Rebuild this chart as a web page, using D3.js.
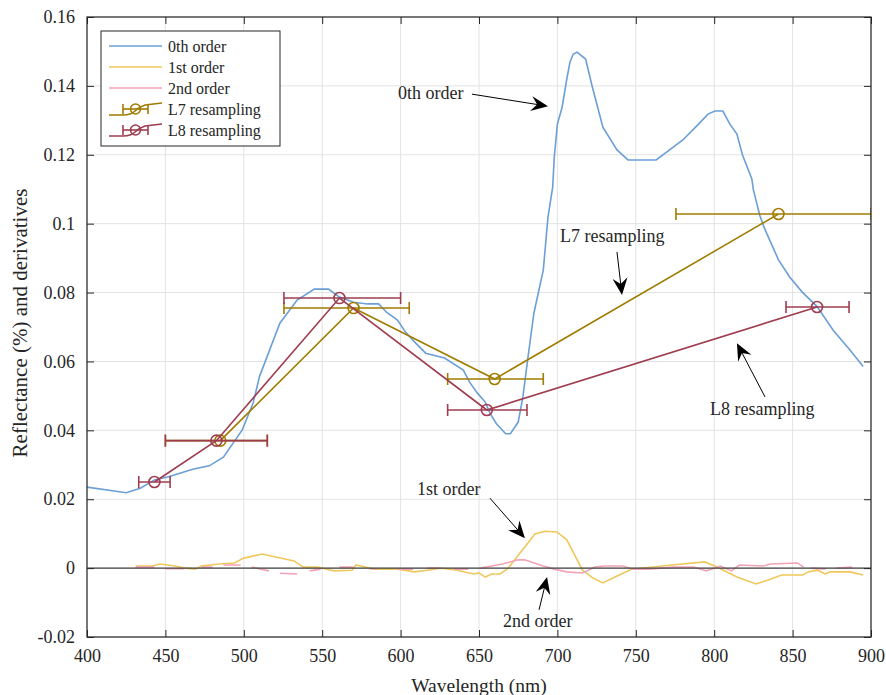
<!DOCTYPE html>
<html>
<head>
<meta charset="utf-8">
<script src="https://cdn.jsdelivr.net/npm/d3@7"></script>
<style>
  body { margin: 0; background: #fff; }
  svg text { font-family: "Liberation Serif", "Times New Roman", serif; fill: #262626; }
</style>
</head>
<body>
<svg width="886" height="695"></svg>
<script>
var svg = d3.select('svg');

// 0th order reflectance
var wl0 = [400, 425, 434, 443, 452, 468, 478, 487, 499, 506, 510, 523, 534, 545, 554, 561, 570, 579, 586, 591, 598, 603, 609, 616, 628, 640, 644, 649, 654, 657, 661, 667, 670, 675, 678, 681, 685, 691, 694, 697, 698, 700, 703, 706, 708, 710, 712.5, 718, 722, 729, 738, 745, 763, 780, 790, 796, 800.5, 805.5, 810, 814.5, 818, 824, 825, 829, 832, 841, 848, 856, 865.5, 876, 886.6, 895];
var r0 = [0.0235, 0.0219, 0.0232, 0.0256, 0.0265, 0.0288, 0.0297, 0.0322, 0.0401, 0.048, 0.0556, 0.0711, 0.0778, 0.081, 0.081, 0.0787, 0.0772, 0.0767, 0.0767, 0.0743, 0.072, 0.0686, 0.0656, 0.0624, 0.061, 0.0575, 0.054, 0.0508, 0.0482, 0.045, 0.042, 0.039, 0.039, 0.0424, 0.0497, 0.0604, 0.074, 0.0865, 0.1019, 0.1106, 0.1193, 0.1289, 0.1338, 0.142, 0.1469, 0.1492, 0.1498, 0.1478, 0.1402, 0.128, 0.1214, 0.1185, 0.1185, 0.1243, 0.1289, 0.1318, 0.1327, 0.1327, 0.1289, 0.126, 0.12, 0.113, 0.1098, 0.1025, 0.0987, 0.0895, 0.0846, 0.0802, 0.076, 0.069, 0.0633, 0.0585];

// 1st order derivative
var wl1 = [431, 441.5, 446.6, 456, 462.5, 469, 473, 484, 494, 500, 511.7, 532, 538, 547, 557.5, 569, 571.6, 583, 598, 609, 617, 626, 636, 643.6, 647, 650, 654, 658, 663.5, 668.6, 685.7, 692, 699.7, 706, 716, 722.7, 729, 736.7, 747.6, 761, 773, 794, 801.8, 814.5, 826.7, 834, 843, 856.6, 859.8, 866, 870.7, 874, 886.6, 895];
var r1 = [0.0006, 0.0006, 0.0012, 0.0006, 0, -0.0003, 0.0006, 0.0012, 0.0015, 0.0029, 0.0041, 0.0021, 0.0003, 0.0003, -0.0008, -0.0006, 0.0009, -0.0003, -0.0003, -0.0011, -0.0006, 0, -0.0006, -0.0014, -0.0017, -0.0014, -0.0026, -0.0017, -0.0017, 0, 0.0099, 0.0107, 0.0105, 0.0082, -0.0006, -0.0029, -0.0043, -0.0026, -0.0003, 0.0003, 0.0009, 0.0018, 0.0003, -0.0026, -0.0046, -0.0035, -0.002, -0.002, -0.0011, -0.0006, -0.0017, -0.0011, -0.0011, -0.002];

// 2nd order derivative (null = gap)
var wl2 = [431, 443, 446, 450, 462, 467, 473, 480, 484, 487, 498, 501, 505, 516, 520, 523, 534, 538, 542, 549, 555, 561, 570, 575, 580, 585, 592, 598, 608, 612, 617, 625, 630, 634, 643, 648, 651, 658, 665, 675, 679, 691, 698, 706, 716, 724, 730, 742, 748, 758, 774, 787, 795, 804, 811, 816, 831, 836, 853, 857, 859, 862, 871, 875, 878, 888];
var r2 = [0.0003, 0.0003, null, -0.0002, -0.0002, null, 0.0003, 0.0003, null, 0.0009, 0.0009, null, 0.0003, -0.0008, null, -0.0015, -0.0017, null, -0.0008, -0.0003, null, 0.0003, 0.0003, null, -0.0002, -0.0002, null, -0.0003, -0.0003, null, 0, 0, null, -0.0003, -0.0003, null, 0, 0.0006, 0.0012, 0.0024, 0.0024, 0.0006, -0.0003, -0.0011, -0.0014, 0.0003, 0.0006, 0.0006, -0.0003, -0.0003, 0.0003, 0.0003, -0.0008, 0.0006, -0.0008, 0.0009, 0.0006, 0.0012, 0.0015, 0.0003, null, 0, -0.0003, null, 0, 0.0003];

// L7 resampling: centre, value, band limits
var l7Centre = [485, 570, 660, 841];
var l7Value = [0.037, 0.0755, 0.0549, 0.1028];
var l7Low = [450, 525.6, 630, 775.6];
var l7High = [515, 605.5, 691, 900];

// L8 resampling
var l8Centre = [443, 482.5, 561, 655, 865.6];
var l8Value = [0.025, 0.037, 0.0784, 0.0459, 0.0758];
var l8Low = [433, 450, 525.6, 630, 845.8];
var l8High = [453, 515, 600, 680.6, 886];

var xTicks = [400, 450, 500, 550, 600, 650, 700, 750, 800, 850, 900];
var yTicks = [-0.02, 0, 0.02, 0.04, 0.06, 0.08, 0.1, 0.12, 0.14, 0.16];

// annotations: text position and arrow tail -> tip, in data units
var notes = [
  {label: '0th order', tx: 598.3, ty: 0.1362, x1: 645.5, y1: 0.1376, x2: 694, y2: 0.1341},
  {label: 'L7 resampling', tx: 701.7, ty: 0.0947, x1: 738, y1: 0.0918, x2: 741.2, y2: 0.0793},
  {label: 'L8 resampling', tx: 797.3, ty: 0.0445, x1: 832.4, y1: 0.0497, x2: 814.5, y2: 0.0653},
  {label: '1st order', tx: 610.5, ty: 0.0212, x1: 657, y1: 0.0203, x2: 679.3, y2: 0.0087},
  {label: '2nd order', tx: 665.3, ty: -0.0171, x1: 688.3, y1: -0.0121, x2: 693.4, y2: -0.0026}
];

var c0 = '#6b9fd6', c1 = '#efc85c', c2 = '#f2a3b5', c7 = '#a07c00', c8 = '#9e3d50';

var padL = 87, padT = 17, padR = 871, padB = 637;
var x = d3.scaleLinear().domain([400, 900]).range([padL, padR]);
var y = d3.scaleLinear().domain([-0.02, 0.16]).range([padB, padT]);

// grid
svg.append('g').selectAll('line').data(xTicks).enter().append('line')
  .attr('x1', function(d){ return x(d); }).attr('x2', function(d){ return x(d); })
  .attr('y1', padT).attr('y2', padB)
  .attr('stroke', '#e3e3e3').attr('stroke-width', 1);
svg.append('g').selectAll('line').data(yTicks).enter().append('line')
  .attr('y1', function(d){ return y(d); }).attr('y2', function(d){ return y(d); })
  .attr('x1', padL).attr('x2', padR)
  .attr('stroke', '#e3e3e3').attr('stroke-width', 1);

svg.append('clipPath').attr('id', 'clip').append('rect')
  .attr('x', padL).attr('y', padT).attr('width', padR - padL).attr('height', padB - padT);
var plot = svg.append('g').attr('clip-path', 'url(#clip)');

function lineOf(wl, vals){
  var pts = wl.map(function(w, i){ return [w, vals[i]]; });
  return d3.line()
    .defined(function(d){ return d[1] !== null; })
    .x(function(d){ return x(d[0]); })
    .y(function(d){ return y(d[1]); })(pts);
}

plot.append('path').attr('d', lineOf(wl0, r0)).attr('fill', 'none').attr('stroke', c0).attr('stroke-width', 1.6);
plot.append('path').attr('d', lineOf(wl1, r1)).attr('fill', 'none').attr('stroke', c1).attr('stroke-width', 1.6);
plot.append('path').attr('d', lineOf(wl2, r2)).attr('fill', 'none').attr('stroke', c2).attr('stroke-width', 1.6);

// zero line
plot.append('line').attr('x1', padL).attr('x2', padR)
  .attr('y1', y(0)).attr('y2', y(0))
  .attr('stroke', '#404040').attr('stroke-width', 1.1);

function drawResampling(centre, vals, lo, hi, col){
  var g = plot.append('g');
  var pts = centre.map(function(c, i){
    return {c: c, v: vals[i], lo: lo[i], hi: hi[i]};
  });
  g.append('path')
    .attr('d', d3.line().x(function(d){ return x(d.c); }).y(function(d){ return y(d.v); })(pts))
    .attr('fill', 'none').attr('stroke', col).attr('stroke-width', 1.6);
  g.selectAll('line.bar').data(pts).enter().append('line')
    .attr('x1', function(d){ return x(d.lo); }).attr('x2', function(d){ return x(d.hi); })
    .attr('y1', function(d){ return y(d.v); }).attr('y2', function(d){ return y(d.v); })
    .attr('stroke', col).attr('stroke-width', 1.6);
  ['lo', 'hi'].forEach(function(k){
    g.selectAll('line.cap' + k).data(pts).enter().append('line')
      .attr('x1', function(d){ return x(d[k]); }).attr('x2', function(d){ return x(d[k]); })
      .attr('y1', function(d){ return y(d.v) - 6; }).attr('y2', function(d){ return y(d.v) + 6; })
      .attr('stroke', col).attr('stroke-width', 1.6);
  });
  g.selectAll('circle').data(pts).enter().append('circle')
    .attr('cx', function(d){ return x(d.c); })
    .attr('cy', function(d){ return y(d.v); })
    .attr('r', 5.5)
    .attr('fill', 'none').attr('stroke', col).attr('stroke-width', 1.6);
}
drawResampling(l7Centre, l7Value, l7Low, l7High, c7);
drawResampling(l8Centre, l8Value, l8Low, l8High, c8);

// axes box and ticks
var frame = svg.append('g');
frame.append('rect').attr('x', padL).attr('y', padT).attr('width', padR - padL).attr('height', padB - padT)
  .attr('fill', 'none').attr('stroke', '#262626').attr('stroke-width', 1.2);
var axB = d3.axisBottom(x).tickValues(xTicks).tickSize(-7).tickPadding(12).tickFormat(d3.format('d'));
var axT = d3.axisTop(x).tickValues(xTicks).tickSize(-7).tickFormat('');
var axL = d3.axisLeft(y).tickValues(yTicks).tickSize(-7).tickPadding(12)
  .tickFormat(function(d){ return d === 0 ? '0' : String(+d.toFixed(2)); });
var axR = d3.axisRight(y).tickValues(yTicks).tickSize(-7).tickFormat('');
[[axB, 'translate(0,' + padB + ')'], [axT, 'translate(0,' + padT + ')'],
 [axL, 'translate(' + padL + ',0)'], [axR, 'translate(' + padR + ',0)']].forEach(function(a){
  var g = frame.append('g').attr('transform', a[1]).call(a[0]);
  g.select('.domain').remove();
  g.selectAll('line').attr('stroke', '#262626');
  g.selectAll('text').attr('font-size', 18).attr('font-family', '"Liberation Serif", serif').attr('fill', '#262626');
});

svg.append('text').attr('x', 479).attr('y', 692)
  .attr('text-anchor', 'middle').attr('font-size', 19.5).text('Wavelength (nm)');
svg.append('text').attr('transform', 'translate(27,' + 323 + ') rotate(-90)')
  .attr('text-anchor', 'middle').attr('font-size', 21).text('Reflectance (%) and derivatives');

// annotations
var ann = svg.append('g');
notes.forEach(function(n){
  ann.append('text').attr('x', x(n.tx)).attr('y', y(n.ty)).attr('font-size', 18).attr('fill', '#000').text(n.label);
  var ax1 = x(n.x1), ay1 = y(n.y1), ax2 = x(n.x2), ay2 = y(n.y2);
  var ang = Math.atan2(ay2 - ay1, ax2 - ax1);
  ann.append('line').attr('x1', ax1).attr('y1', ay1)
    .attr('x2', ax2 - 8 * Math.cos(ang)).attr('y2', ay2 - 8 * Math.sin(ang))
    .attr('stroke', '#000').attr('stroke-width', 1);
  ann.append('path').attr('d', 'M0,0 L-17,-7.5 L-11,0 L-17,7.5 Z')
    .attr('transform', 'translate(' + ax2 + ',' + ay2 + ') rotate(' + (ang * 180 / Math.PI) + ')')
    .attr('fill', '#000');
});

// legend
var lg = svg.append('g').attr('transform', 'translate(101,31)');
lg.append('rect').attr('width', 179).attr('height', 115).attr('fill', '#fff').attr('stroke', '#262626').attr('stroke-width', 1);
var legItems = [
  {label: '0th order', col: c0, bar: false},
  {label: '1st order', col: c1, bar: false},
  {label: '2nd order', col: c2, bar: false},
  {label: 'L7 resampling', col: c7, bar: true},
  {label: 'L8 resampling', col: c8, bar: true}
];
legItems.forEach(function(it, i){
  var yy = 15 + i * 21;
  var g = lg.append('g').attr('transform', 'translate(0,' + yy + ')');
  if (!it.bar) {
    g.append('line').attr('x1', 8).attr('x2', 61).attr('y1', 0).attr('y2', 0).attr('stroke', it.col).attr('stroke-width', 1.6);
  } else {
    g.append('path').attr('d', 'M8,6 L22,6 Q30,6 34,2 Q38,-2 44,-4 L61,-6')
      .attr('fill', 'none').attr('stroke', it.col).attr('stroke-width', 1.6);
    g.append('line').attr('x1', 22).attr('x2', 47).attr('y1', 0).attr('y2', 0).attr('stroke', it.col).attr('stroke-width', 1.6);
    g.append('line').attr('x1', 22).attr('x2', 22).attr('y1', -5).attr('y2', 5).attr('stroke', it.col).attr('stroke-width', 1.6);
    g.append('line').attr('x1', 47).attr('x2', 47).attr('y1', -5).attr('y2', 5).attr('stroke', it.col).attr('stroke-width', 1.6);
    g.append('circle').attr('cx', 34.5).attr('cy', 0).attr('r', 5).attr('fill', 'none').attr('stroke', it.col).attr('stroke-width', 1.6);
  }
  g.append('text').attr('x', 67).attr('y', 5.5).attr('font-size', 16).attr('fill', '#000').text(it.label);
});
</script>
</body>
</html>
